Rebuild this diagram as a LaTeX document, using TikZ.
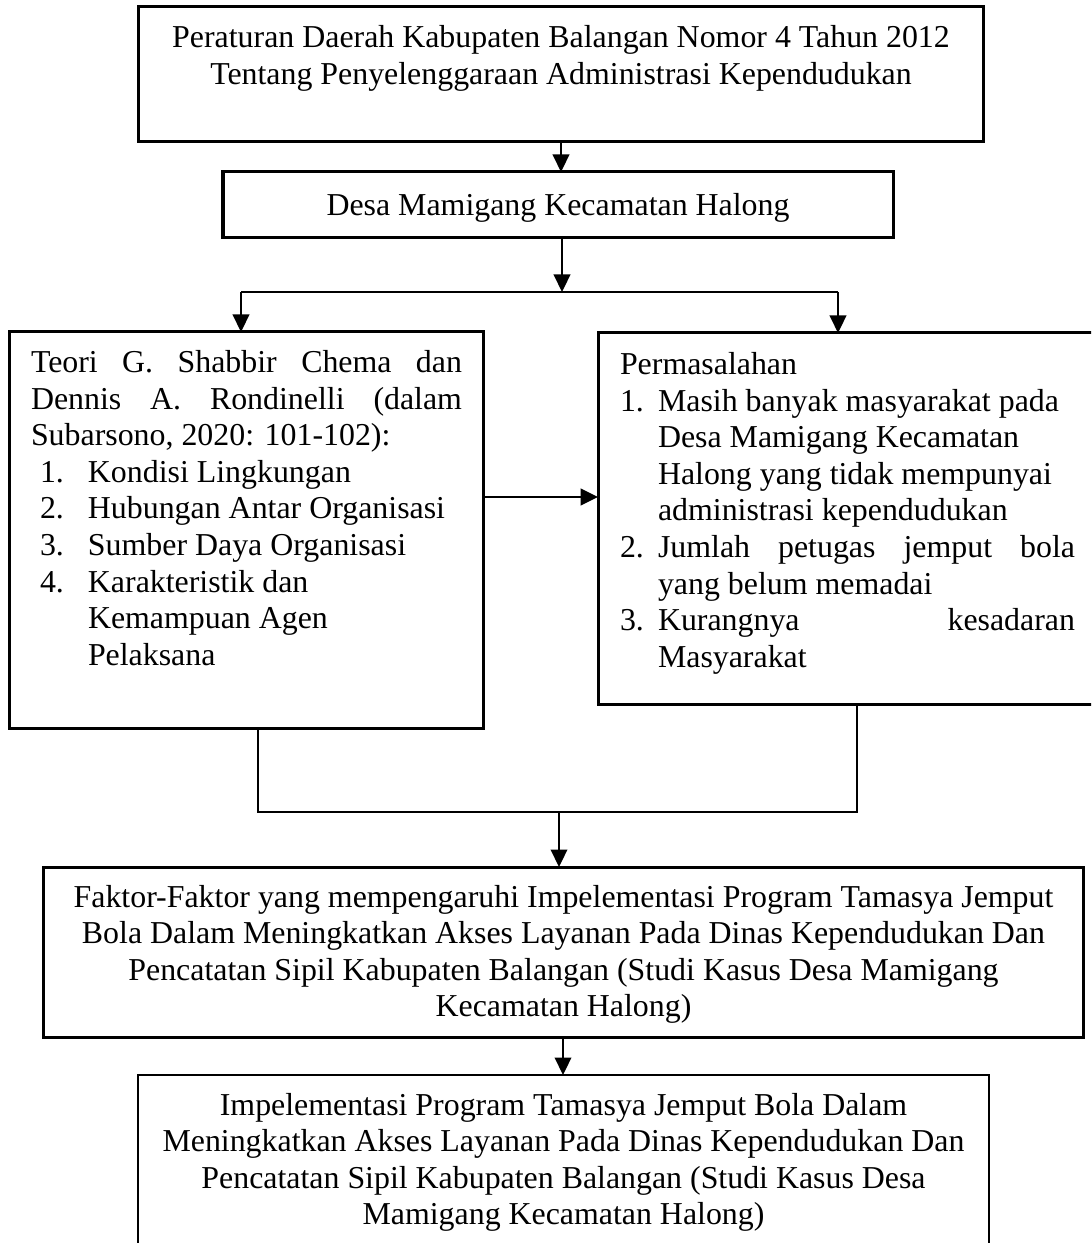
\documentclass[tikz,border=0pt]{standalone}
\usepackage{fontspec}
\setmainfont{Liberation Serif}
\usetikzlibrary{arrows.meta}
\tikzset{
  box/.style={draw=black, line width=1.2pt, rectangle, inner sep=0pt, outer sep=0pt},
  thinbox/.style={box, line width=0.9pt},
  txt/.style={inner sep=0pt, outer sep=0pt, anchor=base, font=\fontsize{12.75pt}{14.6pt}\selectfont},
  conn/.style={draw=black, line width=0.9pt},
  arr/.style={conn, -{Triangle[length=7pt,width=6.6pt]}},
}
\begin{document}
\begin{tikzpicture}[x=0.4pt,y=-0.4pt]
\useasboundingbox (0,0) rectangle (1091,1243);
\clip (0,0) rectangle (1091,1243);

% boxes
\node[box, minimum width=337.6pt, minimum height=54pt] (b1) at (561,74.5) {};
\node[box, minimum width=268pt, minimum height=26.4pt] (b2) at (558,205) {};
\node[box, minimum width=189.2pt, minimum height=158.4pt] (b3) at (246.5,530) {};
\node[box, minimum width=200.8pt, minimum height=148.4pt] (b4) at (849,518.5) {};
\node[box, minimum width=415.6pt, minimum height=68pt] (b5) at (563.5,952) {};
\node[thinbox, minimum width=340.4pt, minimum height=90pt] (b6) at (563.5,1187.5) {};

% texts
\node[txt] (t1) at (561,48) {\parbox[t]{335pt}{\centering
Peraturan Daerah Kabupaten Balangan Nomor 4 Tahun 2012\\
Tentang Penyelenggaraan Administrasi Kependudukan}};

\node[txt] (t2) at (558,216) {Desa Mamigang Kecamatan Halong};

\node[txt, anchor=base west] (t3) at (31,373) {\parbox[t]{172.4pt}{%
\makebox[172.4pt][s]{Teori G. Shabbir Chema dan}\\
\makebox[172.4pt][s]{Dennis A. Rondinelli (dalam}\\
Subarsono, 2020: 101-102):\\
\hspace*{3.6pt}\makebox[19.2pt][l]{1.}Kondisi Lingkungan\\
\hspace*{3.6pt}\makebox[19.2pt][l]{2.}Hubungan Antar Organisasi\\
\hspace*{3.6pt}\makebox[19.2pt][l]{3.}Sumber Daya Organisasi\\
\hspace*{3.6pt}\makebox[19.2pt][l]{4.}Karakteristik dan\\
\hspace*{22.8pt}Kemampuan Agen\\
\hspace*{22.8pt}Pelaksana}};

\node[txt, anchor=base west] (t4) at (620,375) {\parbox[t]{182pt}{%
Permasalahan\\
\makebox[15.2pt][l]{1.}Masih banyak masyarakat pada\\
\hspace*{15.2pt}Desa Mamigang Kecamatan\\
\hspace*{15.2pt}Halong yang tidak mempunyai\\
\hspace*{15.2pt}administrasi kependudukan\\
\makebox[15.2pt][l]{2.}\makebox[166.8pt][s]{Jumlah petugas jemput bola}\\
\hspace*{15.2pt}yang belum memadai\\
\makebox[15.2pt][l]{3.}\makebox[166.8pt][s]{Kurangnya kesadaran}\\
\hspace*{15.2pt}Masyarakat}};

\node[txt] (t5) at (563.5,907) {\parbox[t]{412pt}{\centering
Faktor-Faktor yang mempengaruhi Impelementasi Program Tamasya Jemput\\
Bola Dalam Meningkatkan Akses Layanan Pada Dinas Kependudukan Dan\\
Pencatatan Sipil Kabupaten Balangan (Studi Kasus Desa Mamigang\\
Kecamatan Halong)}};

\node[txt] (t6) at (563.5,1115) {\parbox[t]{338pt}{\centering
Impelementasi Program Tamasya Jemput Bola Dalam\\
Meningkatkan Akses Layanan Pada Dinas Kependudukan Dan\\
Pencatatan Sipil Kabupaten Balangan (Studi Kasus Desa\\
Mamigang Kecamatan Halong)}};

% connectors
\coordinate (c1) at (561,0);
\draw[arr] (b1.south -| c1) -- (b2.north -| c1);
\coordinate (j) at (562,292);
\draw[arr] (b2.south -| j) -- (j);
\coordinate (jl) at (241,292);
\coordinate (jr) at (838,292);
\draw[conn] (jl) -- (jr);
\draw[arr] (jl) -- (jl |- b3.north);
\draw[arr] (jr) -- (jr |- b4.north);
\coordinate (ha) at (0,497);
\draw[arr, line width=1.1pt] (b3.east |- ha) -- (b4.west |- ha);
\coordinate (bl) at (258,812);
\coordinate (br) at (857,812);
\draw[conn] (bl |- b3.south) -- (bl) -- (br) -- (br |- b4.south);
\coordinate (bm) at (559,812);
\draw[arr] (bm) -- (bm |- b5.north);
\coordinate (m2) at (563,0);
\draw[arr] (b5.south -| m2) -- (b6.north -| m2);
\end{tikzpicture}
\end{document}
